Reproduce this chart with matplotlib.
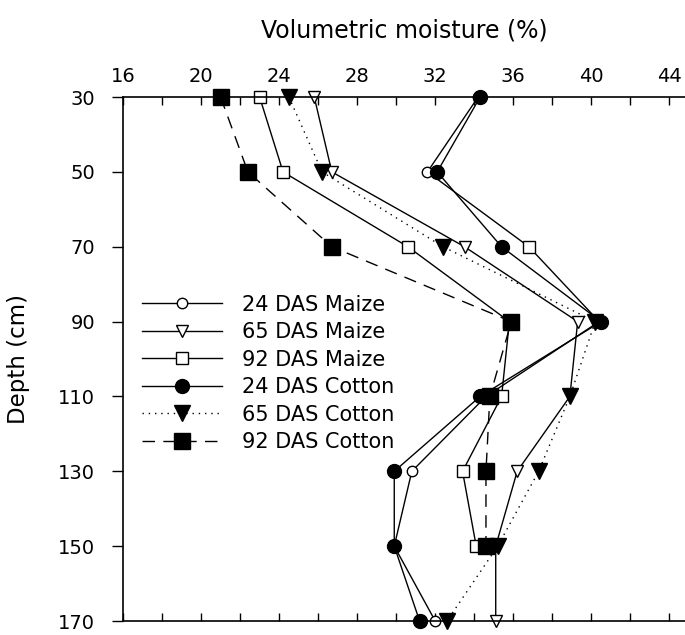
import matplotlib

matplotlib.use("Agg")
import matplotlib.pyplot as plt
from matplotlib.ticker import MultipleLocator

# soil depth (cm) and volumetric moisture (%)
depths = [30, 50, 70, 90, 110, 130, 150, 170]

maize_24 = [34.2, 31.6, 36.8, 40.4, 34.6, 30.8, 29.9, 32.0]
maize_65 = [25.8, 26.7, 33.5, 39.3, 38.9, 36.2, 35.1, 35.1]
maize_92 = [23.0, 24.2, 30.6, 35.8, 35.4, 33.4, 34.1]
cotton_24 = [34.3, 32.1, 35.4, 40.5, 34.3, 29.9, 29.9, 31.2]
cotton_65 = [24.5, 26.2, 32.4, 40.2, 38.9, 37.3, 35.2, 32.6]
cotton_92 = [21.0, 22.4, 26.7, 35.9, 34.8, 34.6, 34.6]

labels = [
    "24 DAS Maize",
    "65 DAS Maize",
    "92 DAS Maize",
    "24 DAS Cotton",
    "65 DAS Cotton",
    "92 DAS Cotton",
]

plt.rcParams["font.family"] = ["DejaVu Sans"]

fig = plt.figure(figsize=(6.85, 6.35), dpi=100)
# bottom kept a few px above the edge so the "170" label is not cut
ax = fig.add_axes([0.1796, 0.0220, 0.8204, 0.8252])

series = [
    (maize_24, dict(marker="o", ms=7.5, mfc="white", ls="-")),
    (maize_65, dict(marker="v", ms=9, mfc="white", ls="-")),
    (maize_92, dict(marker="s", ms=9, mfc="white", ls="-")),
    (cotton_24, dict(marker="o", ms=10, mfc="black", ls="-")),
    (cotton_65, dict(marker="v", ms=11.5, mfc="black", ls=(0, (1, 3.5)))),
    (cotton_92, dict(marker="s", ms=12, mfc="black", ls=(0, (9, 6)))),
]

for (values, style), label in zip(series, labels):
    d = depths[: len(values)]
    every = None
    if label == "24 DAS Maize":
        # the 70 cm point of this series is drawn as a square in the source
        every = [i for i in range(len(values)) if i != 2]
    ax.plot(values, d, color="black", lw=1, mec="black", mew=1,
            markevery=every, clip_on=False, label=label, **style)

ax.plot(maize_24[2], depths[2], marker="s", ms=8.5, mfc="white",
        mec="black", mew=1, ls="none", clip_on=False)

ax.set_xlim(16, 44.8)
ax.set_ylim(170, 30)
ax.xaxis.tick_top()
ax.xaxis.set_label_position("top")
ax.xaxis.set_major_locator(MultipleLocator(4))
ax.xaxis.set_minor_locator(MultipleLocator(2))
ax.set_yticks(depths)

ax.tick_params(axis="x", which="both", direction="in", top=True, bottom=True,
               length=6, width=1, labelsize=14, pad=8)
ax.tick_params(axis="y", direction="out", length=8, width=1, labelsize=14, pad=12)

ax.spines["right"].set_visible(False)
for side in ("top", "bottom", "left"):
    ax.spines[side].set_linewidth(1.2)

ax.set_xlabel("Volumetric moisture (%)", fontsize=17, labelpad=21)
ax.set_ylabel("Depth (cm)", fontsize=16.5, labelpad=20)

ax.legend(loc="upper left", bbox_to_anchor=(0.207, 0.536), bbox_transform=fig.transFigure,
          frameon=False, fontsize=15, handlelength=3.85, handletextpad=0.95,
          labelspacing=0.36, borderpad=0, borderaxespad=0)

fig.savefig("out.png", dpi=100)
plt.close(fig)
